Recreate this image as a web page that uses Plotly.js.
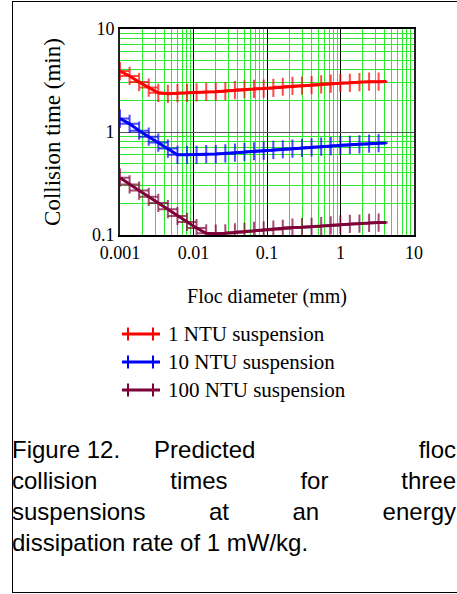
<!DOCTYPE html>
<html>
<head>
<meta charset="utf-8">
<script src="https://cdn.plot.ly/plotly-3.0.1.min.js"></script>
<style>
  html, body { margin: 0; padding: 0; width: 457px; height: 594px; overflow: hidden; background: #fff; }
  #frame { position: absolute; left: 12px; top: 1px; width: 500px; height: 592px; border: 1px solid #000; box-sizing: border-box; }
  #plot { position: absolute; left: 0; top: 0; width: 457px; height: 420px; }
  #caption { position: absolute; left: 12px; top: 434px; width: 444px; font-family: "Liberation Sans", Arial, sans-serif; font-size: 24px; line-height: 31px; color: #000; }
  .jl { text-align: justify; text-align-last: justify; white-space: nowrap; }
  .l1 { display: flex; white-space: pre; }
</style>
</head>
<body>
<div id="frame"></div>
<div id="plot"></div>
<div id="caption">
  <div class="l1"><span>Figure 12.</span><span style="margin-left:34px">Predicted</span><span style="margin-left:auto">floc</span></div>
  <div class="jl">collision times for three</div>
  <div class="jl">suspensions at an energy</div>
  <div>dissipation rate of 1 mW/kg.</div>
</div>
<script>
// ---- data ----
const flocDiameter_mm = [0.001, 0.00135, 0.00182, 0.00246, 0.00332, 0.00448, 0.00605, 0.00817, 0.0110, 0.0149,
  0.0201, 0.0271, 0.0366, 0.0494, 0.0667, 0.0901, 0.122, 0.164, 0.222, 0.299,
  0.404, 0.546, 0.737, 0.995, 1.34, 1.81, 2.45, 3.30, 4.2];

const time_1NTU = [3.9, 3.5, 3.05, 2.7, 2.4, 2.35, 2.38, 2.4, 2.42, 2.45,
  2.46, 2.5, 2.55, 2.6, 2.62, 2.64, 2.68, 2.75, 2.8, 2.82,
  2.85, 2.9, 2.95, 2.98, 3.0, 3.05, 3.08, 3.08, 3.1];

const time_10NTU = [1.35, 1.2, 1.03, 0.9, 0.79, 0.69, 0.6, 0.6, 0.6, 0.61,
  0.61, 0.62, 0.63, 0.64, 0.65, 0.66, 0.67, 0.68, 0.69, 0.7,
  0.71, 0.72, 0.73, 0.74, 0.75, 0.76, 0.77, 0.78, 0.78];

const time_100NTU = [0.36, 0.31, 0.27, 0.235, 0.205, 0.178, 0.153, 0.134, 0.117, 0.104,
  0.103, 0.104, 0.106, 0.108, 0.11, 0.111, 0.113, 0.115, 0.118, 0.119,
  0.12, 0.122, 0.124, 0.126, 0.128, 0.129, 0.131, 0.132, 0.132];

const seriesNames = ["1 NTU suspension", "10 NTU suspension", "100 NTU suspension"];
const xTickVals = [0.001, 0.01, 0.1, 1, 10];
const xTickText = ["0.001", "0.01", "0.1", "1", "10"];
const yTickVals = [0.1, 1, 10];
const yTickText = ["0.1", "1", "10"];
const xTitle = "Floc diameter (mm)";
const yTitle = "Collision time (min)";

// ---- styling ----
const colors = ["#ff0000", "#0000ff", "#7f0038"];
const seriesY = [time_1NTU, time_10NTU, time_100NTU];
const serif = "Liberation Serif, Times New Roman, serif";

const markerSizes = flocDiameter_mm.map((_, i) => (i === flocDiameter_mm.length - 1 ? 0 : 13));

const traces = seriesY.map((ys, i) => ({
  type: "scatter",
  mode: "lines+markers",
  x: flocDiameter_mm,
  y: ys,
  name: seriesNames[i],
  line: { color: colors[i], width: 3 },
  marker: { symbol: "cross-thin", size: markerSizes, color: colors[i], line: { color: colors[i], width: 2 } },
  showlegend: false,
  hoverinfo: "x+y+name"
}));

// plot area in pixels
const L = 120, R = 414, T = 29, B = 235, H = 420;
const px2x = (px) => (px - L) / (R - L);
const px2y = (py) => (B - py) / (B - T);

const shapes = [];
const annotations = [];
const legendY = [334, 362, 390];
seriesNames.forEach((nm, i) => {
  const yc = legendY[i];
  shapes.push({ type: "line", xref: "paper", yref: "paper", x0: px2x(122), x1: px2x(160), y0: px2y(yc), y1: px2y(yc), line: { color: colors[i], width: 3 } });
  [128, 153].forEach(tx => {
    shapes.push({ type: "line", xref: "paper", yref: "paper", x0: px2x(tx), x1: px2x(tx), y0: px2y(yc - 6.5), y1: px2y(yc + 6.5), line: { color: colors[i], width: 2 } });
  });
  annotations.push({ xref: "paper", yref: "paper", x: px2x(166), y: px2y(yc), xanchor: "left", yanchor: "middle", text: nm, showarrow: false, font: { family: serif, size: 21, color: "#000" } });
});

const layout = {
  width: 457, height: H,
  margin: { l: L, r: 457 - R, t: T, b: H - B, pad: 0 },
  paper_bgcolor: "rgba(0,0,0,0)",
  plot_bgcolor: "#fff",
  showlegend: false,
  font: { family: serif, color: "#000" },
  xaxis: {
    type: "log", range: [-3, 1],
    tickvals: xTickVals, ticktext: xTickText,
    tickfont: { family: serif, size: 18, color: "#000" },
    ticks: "", showline: true, mirror: true, linecolor: "#000", linewidth: 2,
    showgrid: true, gridcolor: "#000", gridwidth: 1, zeroline: false,
    minor: { dtick: "D1", showgrid: true, gridcolor: "#2ee82e", gridwidth: 1, ticks: "" },
    title: { text: xTitle, font: { family: serif, size: 20, color: "#000" }, standoff: 27 },
    automargin: false
  },
  yaxis: {
    type: "log", range: [-1, 1],
    tickvals: yTickVals, ticktext: yTickText,
    tickfont: { family: serif, size: 18, color: "#000" },
    ticks: "", showline: true, mirror: true, linecolor: "#222", linewidth: 2,
    showgrid: true, gridcolor: "#555", gridwidth: 1, zeroline: false,
    minor: { dtick: "D1", showgrid: true, gridcolor: "#2ee82e", gridwidth: 1, ticks: "" },
    title: { text: yTitle, font: { family: serif, size: 23, color: "#000" }, standoff: 25 },
    automargin: false
  },
  shapes: shapes,
  annotations: annotations
};

Plotly.newPlot("plot", traces, layout, { staticPlot: true, displayModeBar: false });
</script>
</body>
</html>
